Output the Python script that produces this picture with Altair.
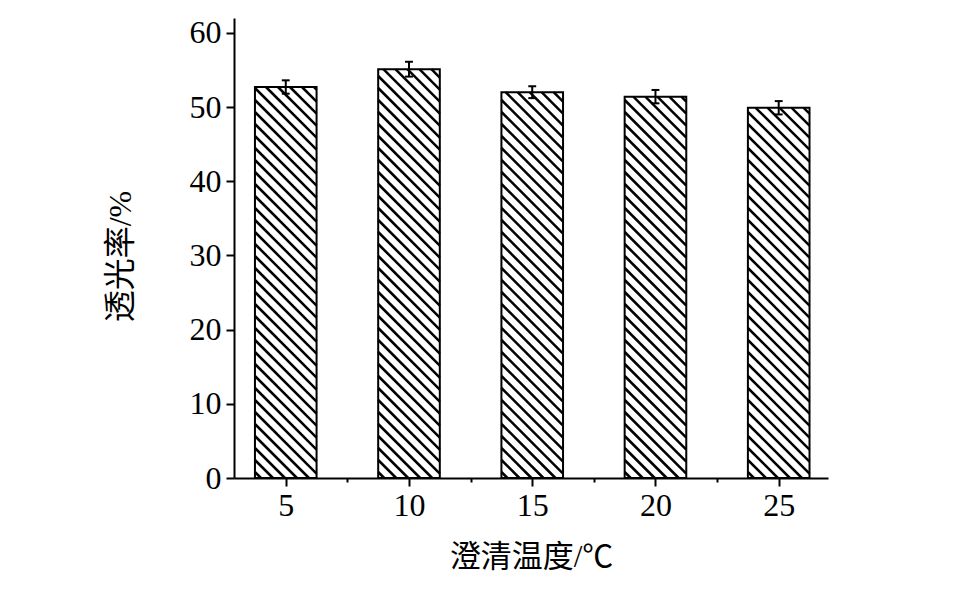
import altair as alt
import pandas as pd
import numpy as np

# ---- data ----
temps = [5, 10, 15, 20, 25]
trans = [52.7, 55.1, 52.0, 51.4, 49.9]
errs = [0.9, 1.0, 0.8, 0.9, 0.9]
x_ticks = [5, 7.5, 10, 12.5, 15, 17.5, 20, 22.5, 25]
y_ticks = [0, 5, 10, 15, 20, 25, 30, 35, 40, 45, 50, 55, 60]
x_title = "澄清温度/℃"
y_title = "透光率/%"

XDOM = [2.9, 27]
YDOM = [0, 62]
W, H = 594, 460
HALF = 1.25  # half bar width in x units
CAP = 0.16
FONT = "Liberation Serif, Noto Sans CJK SC"

df = pd.DataFrame({"t": temps, "v": trans, "e": errs})

# hatch segments (45 degrees in screen space) clipped to each bar
kx = W / (XDOM[1] - XDOM[0])
ky = H / (YDOM[1] - YDOM[0])
slope = kx / ky
step = 12 / kx
segs = []
for t, v in zip(temps, trans):
    left, right = t - HALF, t + HALF
    k = left + step * 0.5
    while k < right + v / slope:
        ylo = max(0.0, slope * (k - right))
        yhi = min(v, slope * (k - left))
        if yhi > ylo:
            segs.append(dict(xa=k - ylo / slope, ya=ylo, xb=k - yhi / slope, yb=yhi))
        k += step
hatch_df = pd.DataFrame(segs)

xs = alt.Scale(domain=XDOM, nice=False, zero=False)
ys = alt.Scale(domain=YDOM, nice=False, zero=False)

axis_common = dict(
    domainColor="black", domainWidth=2, tickColor="black", tickWidth=2,
    labelFont=FONT, labelFontSize=32, labelColor="black",
    titleFont=FONT, titleColor="black", titleFontWeight="normal",
    grid=False,
)

base = alt.Chart(df).transform_calculate(
    x0=f"datum.t - {HALF}", x1=f"datum.t + {HALF}",
    lo="datum.v - datum.e", hi="datum.v + datum.e",
    c0=f"datum.t - {CAP}", c1=f"datum.t + {CAP}",
)

bars = base.mark_bar(fill="white", strokeWidth=0).encode(
    x=alt.X("x0:Q", scale=xs, axis=alt.Axis(
        values=x_ticks, orient="bottom",
        tickSize={"condition": {"test": "datum.value % 5 === 0", "value": 8}, "value": 4},
        labelExpr="datum.value % 5 === 0 ? datum.label : ''",
        labelPadding=4,
        title=x_title, titleFontSize=31, titleY=64, titleBaseline="top",
        **axis_common)),
    x2="x1:Q",
    y=alt.Y("v:Q", scale=ys, axis=alt.Axis(
        values=y_ticks, orient="left",
        tickSize={"condition": {"test": "datum.value % 10 === 0", "value": 8}, "value": 4},
        labelExpr="datum.value % 10 === 0 ? datum.label : ''",
        labelPadding=5,
        title=y_title, titleFontSize=32, titleAnchor="middle",
        titleX=-97, titleY=238, **axis_common)),
    y2=alt.datum(0),
)

hatch = alt.Chart(hatch_df).mark_rule(color="black", strokeWidth=2.5).encode(
    x=alt.X("xa:Q", scale=xs),
    x2="xb:Q",
    y=alt.Y("ya:Q", scale=ys),
    y2="yb:Q",
)

outline = base.mark_bar(fill="white", fillOpacity=0, stroke="black", strokeWidth=2).encode(
    x=alt.X("x0:Q", scale=xs),
    x2="x1:Q",
    y=alt.Y("v:Q", scale=ys),
    y2=alt.datum(0),
)

err_v = base.mark_rule(color="black", strokeWidth=2).encode(
    x=alt.X("t:Q", scale=xs),
    y=alt.Y("lo:Q", scale=ys),
    y2="hi:Q",
)
cap_hi = base.mark_rule(color="black", strokeWidth=2).encode(
    x=alt.X("c0:Q", scale=xs), x2="c1:Q",
    y=alt.Y("hi:Q", scale=ys),
)
cap_lo = base.mark_rule(color="black", strokeWidth=2).encode(
    x=alt.X("c0:Q", scale=xs), x2="c1:Q",
    y=alt.Y("lo:Q", scale=ys),
)

chart = alt.layer(bars, hatch, outline, err_v, cap_hi, cap_lo).properties(
    width=W, height=H,
    background="white",
    autosize=alt.AutoSizeParams(type="none"),
    padding={"left": 226, "top": 10, "right": 110, "bottom": 100},
).configure_view(strokeWidth=0, stroke="transparent")

chart.save("out.html", embed_options={"renderer": "svg", "actions": False})
